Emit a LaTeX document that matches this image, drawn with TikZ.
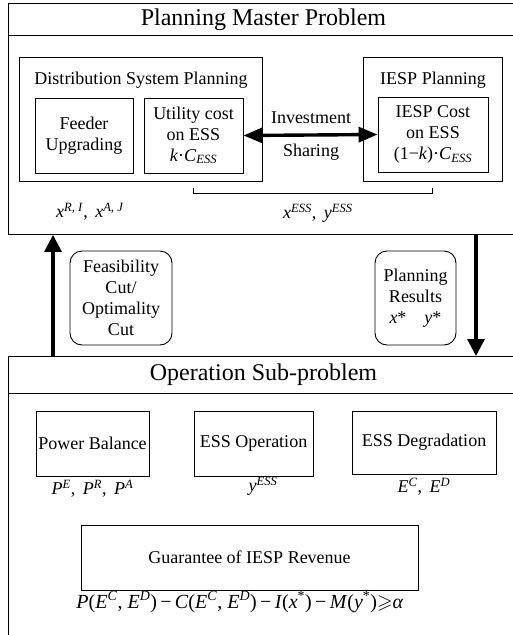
\documentclass[tikz,border=0pt]{standalone}
\usepackage{fontspec}
\setmainfont{Liberation Serif}
\usepackage{amssymb}
\usetikzlibrary{arrows.meta,positioning}

\newcommand{\vx}[1]{\textit{#1}}
\newcommand{\ess}{\textsubscript{\vx{ESS}}}
\newcommand{\sess}{\textsuperscript{\vx{ESS}}}

\begin{document}
\begin{tikzpicture}[x=1pt,y=-1pt,
    every node/.style={font=\rmfamily\fontsize{18}{21}\selectfont},
    box/.style={draw,line width=0.9pt,align=center,inner sep=0pt},
    bar/.style={box,anchor=north west,minimum width=510pt,font=\rmfamily\fontsize{24}{28}\selectfont},
    rbox/.style={box,rounded corners=12pt},
    flow/.style={line width=3.2pt,-{Triangle[width=17pt,length=17pt]}},
    share/.style={line width=3.4pt,{Triangle[width=15pt,length=19pt]}-{Triangle[width=15pt,length=19pt]}}]

    \useasboundingbox (0,0) rectangle (513,635);
    \clip (0,0) rectangle (513,635);

    % master problem
    \node[box,anchor=north west,minimum width=510pt,minimum height=231pt] (master) at (8,3) {};
    \node[bar,minimum height=32pt] (mtitle) at (8,3) {Planning Master Problem};

    \node[box,minimum width=243pt,minimum height=124pt] (dsp) at (140.5,119) {};
    \node (dsptitle) at (141,80) {Distribution System Planning};
    \node[box,minimum width=98pt,minimum height=75pt] (feeder) at (84,135.5) {Feeder\\Upgrading};
    \node[box,minimum width=99pt,minimum height=75pt] (util) at (193.5,135.5) {Utility cost\\on ESS\\\vx{k}·\vx{C}\ess};

    \node[box,minimum width=139pt,minimum height=124pt] (ipl) at (432.5,119) {};
    \node (ipltitle) at (433,80) {IESP Planning};
    \node[box,minimum width=110pt,minimum height=75pt] (icost) at (433,134.5) {IESP Cost\\on ESS\\(1−\vx{k})·\vx{C}\ess};

    \draw[share] (util.east) -- (icost.west);
    \node (invest) at (311,118) {Investment};
    \node (sharing) at (311,152) {Sharing};

    \draw[line width=0.9pt] (util.south |- 0,188) -- (util.south |- 0,193) -| (ipl.south |- 0,188);

    \node (xri) at (90,212) {\vx{x}\textsuperscript{\vx{R, I}}, \,\vx{x}\textsuperscript{\vx{A, J}}};
    \node (xess) at (318,213) {\vx{x}\sess, \,\vx{y}\sess};

    % between the two problems
    \node[rbox,minimum width=102pt,minimum height=94pt] (fcut) at (121,298) {Feasibility\\Cut/\\Optimality\\Cut};
    \node[rbox,minimum width=81pt,minimum height=94pt] (pres) at (415.5,298) {Planning\\Results\\\vx{x}*\quad\vx{y}*};

    % sub-problem
    \node[box,anchor=north west,minimum width=510pt,minimum height=330pt] (sub) at (8,356) {};
    \node[bar,minimum height=37pt] (stitle) at (8,356) {Operation Sub-problem};

    \coordinate (upx) at (53,0);
    \coordinate (dnx) at (476,0);
    \draw[flow] (stitle.north -| upx) -- (master.south -| upx);
    \draw[flow] (master.south -| dnx) -- (stitle.north -| dnx);

    \node[box,minimum width=113pt,minimum height=65pt] (pbal) at (92.5,443.5) {Power Balance};
    \node[box,minimum width=119pt,minimum height=65pt] (essop) at (253.5,443.5) {ESS Operation};
    \node[box,minimum width=144pt,minimum height=63pt] (essdeg) at (424,442.5) {ESS Degradation};

    \node (pvars) [below=0pt of pbal] {\vx{P}\textsuperscript{\vx{E}}, \,\vx{P}\textsuperscript{\vx{R}}, \,\vx{P}\textsuperscript{\vx{A}}};
    \node (yvar) at (263,486) {\vx{y}\sess};
    \node (evars) [below=0pt of essdeg] {\vx{E}\textsuperscript{\vx{C}}, \,\vx{E}\textsuperscript{\vx{D}}};

    \node[box,minimum width=337pt,minimum height=65pt] (guar) at (249.5,557.5) {Guarantee of IESP Revenue};
    \node[font=\rmfamily\fontsize{20}{24}\selectfont] (rev) at (240,602) {\vx{P}(\vx{E}\textsuperscript{\vx{C}}, \vx{E}\textsuperscript{\vx{D}})\,−\,\vx{C}(\vx{E}\textsuperscript{\vx{C}}, \vx{E}\textsuperscript{\vx{D}})\,−\,\vx{I}(\vx{x}\textsuperscript{*})\,−\,\vx{M}(\vx{y}\textsuperscript{*})$\geqslant$\vx{α}};

\end{tikzpicture}
\end{document}
